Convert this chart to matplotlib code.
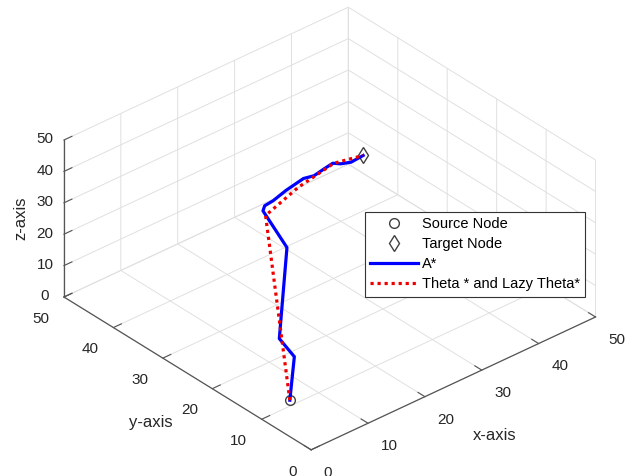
import numpy as np
import matplotlib
matplotlib.use("Agg")
import matplotlib.pyplot as plt
from mpl_toolkits.mplot3d import proj3d

plt.rcParams['font.family'] = ['Liberation Sans', 'DejaVu Sans']

# ---------------- data ----------------
source = (5.9, 11.1, 0.0)
target = (30.0, 24.0, 45.0)

astar_x = [5.9, 7.3, 7.7, 10.0, 11.0, 12.0, 13.65, 16.6, 20.3, 21.8, 23.9, 25.7, 26.4, 27.7, 30.0]
astar_y = [11.1, 11.8, 15.3, 16.4, 22.4, 23.2, 23.4, 24.2, 24.9, 24.5, 24.9, 25.2, 24.4, 23.8, 24.0]
astar_z = [0, 12, 14, 40, 45, 45, 45, 45, 45, 45, 45, 45, 45, 45, 45]

theta_x = [5.9, 10.5, 18.3, 25.8, 30.0]
theta_y = [11.1, 21.3, 23.7, 25.1, 24.0]
theta_z = [0, 45, 45, 45, 45]

ticks = [0, 10, 20, 30, 40, 50]
labels = ['Source Node', 'Target Node', 'A*', 'Theta * and Lazy Theta*']
axis_titles = ['x-axis', 'y-axis', 'z-axis']

W, H = 640, 476
fig = plt.figure(figsize=(W / 100, H / 100), dpi=100)
S0 = 300.0
ax = fig.add_axes([0.2, 0.2, S0 / W, S0 / H], projection='3d', proj_type='ortho')
ax.view_init(elev=32.5, azim=-131)
ax.set_box_aspect((1, 1, 0.494))
ax.set_xlim(0, 50); ax.set_ylim(0, 50); ax.set_zlim(0, 50)
ax.set_xticks(ticks); ax.set_yticks(ticks); ax.set_zticks(ticks)

for axis in (ax.xaxis, ax.yaxis, ax.zaxis):
    axis.set_pane_color((1, 1, 1, 0))
    axis.pane.set_edgecolor((0.88, 0.88, 0.88, 1))
    axis._axinfo['grid']['color'] = (0.88, 0.88, 0.88, 1)
    axis._axinfo['grid']['linewidth'] = 0.7
    axis._axinfo['tick']['inward_factor'] = 0.0
    axis._axinfo['tick']['outward_factor'] = 0.35
    axis.line.set_color('#555555')
    axis.line.set_linewidth(0.9)
ax.tick_params(axis='both', colors='#555555', labelcolor='#262626', labelsize=11)
ax.zaxis.set_tick_params(pad=-0.7)
ax.xaxis.set_tick_params(pad=2.5)
ax.yaxis.set_tick_params(pad=2.5)
for t in ax.zaxis.get_major_ticks():
    t.label1.set_verticalalignment('center')
for t in ax.xaxis.get_major_ticks():
    t.label1.set_horizontalalignment('left')
for t in ax.yaxis.get_major_ticks():
    t.label1.set_horizontalalignment('right')

h1, = ax.plot([source[0]], [source[1]], [source[2]], ls='none', marker='o', ms=7,
              mfc='none', mec='#404040', mew=1.0, label=labels[0])
h2, = ax.plot([target[0]], [target[1]], [target[2]], ls='none', marker='d', ms=8.5,
              mfc='none', mec='#404040', mew=1.0, label=labels[1])
h3, = ax.plot(astar_x, astar_y, astar_z, color='#0000ff', lw=2.3, label=labels[2])
h4, = ax.plot(theta_x, theta_y, theta_z, color='#ee0000', lw=2.3, ls=(0, (1, 1.2)),
              label=labels[3])

# ---- fit axes position so the projected box matches the reference layout ----
fig.canvas.draw()
corners = np.array([[0, 0, 0], [50, 0, 0], [0, 50, 0], [50, 50, 50]], float)
tgt = np.array([[310, 450], [595, 318], [63, 295], [351, 8]], float)
tgt[:, 1] = H - tgt[:, 1]
xs, ys, _ = proj3d.proj_transform(corners[:, 0], corners[:, 1], corners[:, 2], ax.get_proj())
d = ax.transData.transform(np.column_stack([xs, ys]))
bb = ax.get_position()
c0 = np.array([(bb.x0 + bb.x1) / 2 * W, (bb.y0 + bb.y1) / 2 * H])
size0 = bb.width * W
r = (d - c0) / size0
rm, tm = r.mean(0), tgt.mean(0)
S = ((r - rm) * (tgt - tm)).sum() / ((r - rm) ** 2).sum()
c = tm - S * rm
ax.set_position([(c[0] - S / 2) / W, (c[1] - S / 2) / H, S / W, S / H])

# axis titles (horizontal, as in the reference)
fig.text(495 / W, 1 - 435 / H, axis_titles[0], fontsize=12, color='#262626',
         ha='center', va='center')
fig.text(151 / W, 1 - 422 / H, axis_titles[1], fontsize=12, color='#262626',
         ha='center', va='center')
fig.text(21 / W, 1 - 218 / H, axis_titles[2], fontsize=12, color='#262626',
         ha='center', va='center', rotation=90)

leg = fig.legend(handles=[h1, h2, h3, h4], labels=labels, loc='upper left',
                 bbox_to_anchor=(365 / W, 1 - 212 / H), fontsize=10.5, frameon=True,
                 fancybox=False, edgecolor='#333333', framealpha=1, handlelength=3.3,
                 labelspacing=0.42, borderpad=0.35, handletextpad=0.27, borderaxespad=0)
leg.get_frame().set_linewidth(0.8)

fig.savefig('out.png', dpi=100)
